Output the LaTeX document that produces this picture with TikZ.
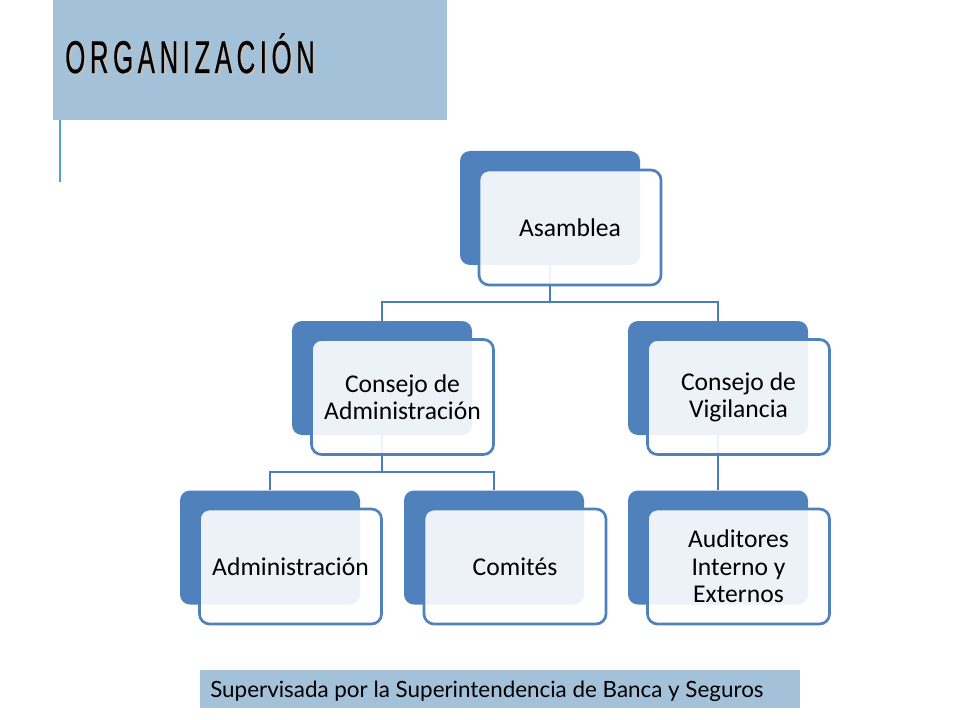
\documentclass[tikz,border=0pt]{standalone}
\usepackage{fontspec}
\setmainfont{Carlito}
\newfontfamily\titlefont[FakeStretch=0.56,LetterSpace=10,FakeBold=0.4]{Liberation Sans}
\newfontfamily\bannerfont{Lato}
\definecolor{bandblue}{HTML}{A3C1D8}
\definecolor{darkblue}{HTML}{4F81BD}
\definecolor{connblue}{HTML}{4A7EBB}
\definecolor{sideline}{HTML}{4BA6C9}
\tikzset{
  backbox/.style={rectangle, rounded corners=7.5pt, fill=darkblue, draw=none,
    minimum width=135pt, minimum height=85.5pt, inner sep=0pt},
  frontbox/.style={rectangle, rounded corners=7.5pt, draw=darkblue, line width=2pt,
    fill=white, fill opacity=0.9, text opacity=1, text=black,
    minimum width=136.5pt, minimum height=86.25pt, inner sep=0pt,
    align=center, font=\fontsize{19.2}{20.5}\selectfont},
  conn/.style={draw=connblue, line width=1.8pt}
}
\begin{document}
\begin{tikzpicture}[x=0.75pt,y=-0.75pt]
\useasboundingbox (0,0) rectangle (960,720);
\fill[white] (0,0) rectangle (960,720);
% title band
\fill[bandblue] (53,0) rectangle (447,120);
\draw[sideline, line width=1.5pt] (60,120) -- (60,182);
\node[anchor=base west, inner sep=0pt, text=black!25, font=\titlefont\fontsize{34.5}{40}\selectfont] (titleshadow) at (67.5,75.5) {ORGANIZACIÓN};
\node[anchor=base west, inner sep=0pt, text=black, font=\titlefont\fontsize{34.5}{40}\selectfont] (title) at (65,73) {ORGANIZACIÓN};
% bus coordinates
\coordinate (busA) at (0,302);
\coordinate (busB) at (0,472);
% back boxes
\node[backbox] (asbB) at (550,208) {};
\node[backbox] (cdaB) at (382,378) {};
\node[backbox] (cdvB) at (718,378) {};
\node[backbox] (admB) at (270,547.5) {};
\node[backbox] (comB) at (494,547.5) {};
\node[backbox] (audB) at (718,547.5) {};
% connectors
\draw[conn] (asbB.south) -- (asbB.south |- busA) -| (cdaB.north);
\draw[conn] (asbB.south |- busA) -| (cdvB.north);
\draw[conn] (cdaB.south) -- (cdaB.south |- busB) -| (admB.north);
\draw[conn] (cdaB.south |- busB) -| (comB.north);
\draw[conn] (cdvB.south) -- (audB.north);
% front boxes
\node[frontbox] (asb) at (570,227.5) {Asamblea};
\node[frontbox] (cda) at (402.5,397) {Consejo de\\Administración};
\node[frontbox] (cdv) at (738.5,397) {Consejo de\\Vigilancia};
\node[frontbox] (adm) at (290.5,566.5) {Administración};
\node[frontbox] (com) at (515,566.5) {Comités};
\node[frontbox] (aud) at (738.5,566.5) {Auditores\\Interno y\\Externos};
% banner
\fill[bandblue] (200,670) rectangle (800,708);
\node[anchor=base west, inner sep=0pt, font=\bannerfont\fontsize{16.8}{20}\selectfont] (banner) at (210,697) {Supervisada por la Superintendencia de Banca y Seguros};
\end{tikzpicture}
\end{document}
